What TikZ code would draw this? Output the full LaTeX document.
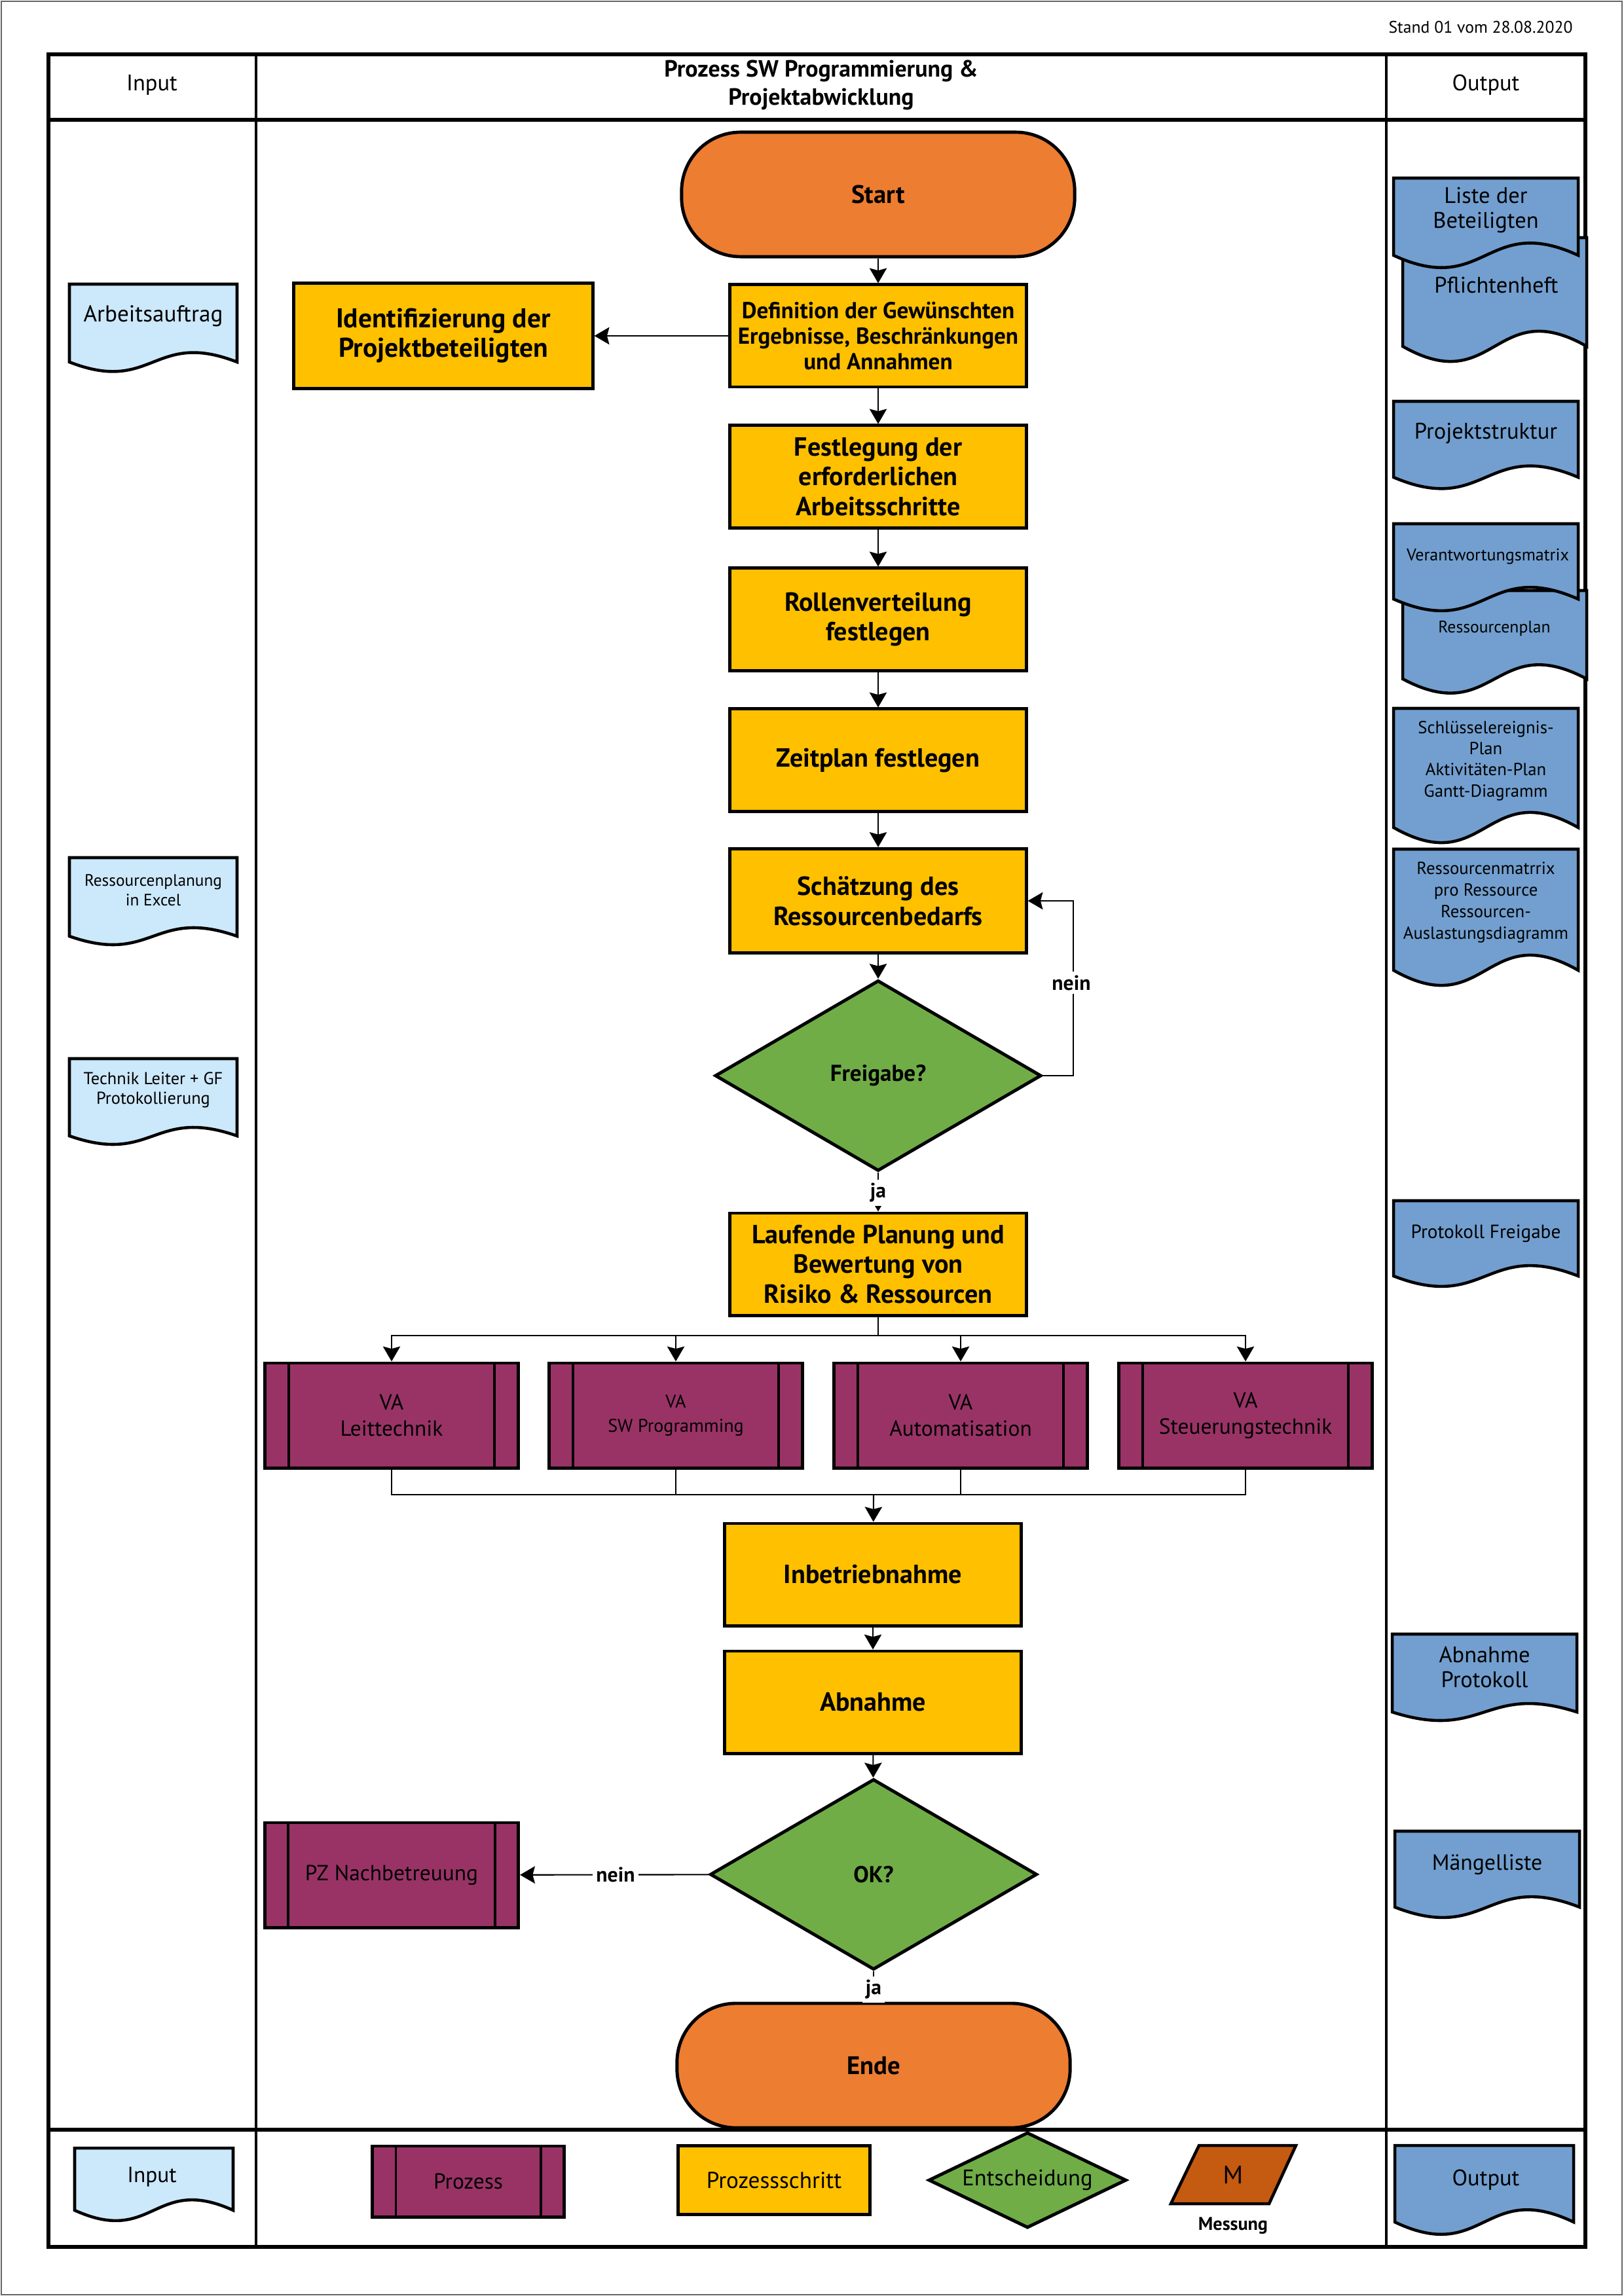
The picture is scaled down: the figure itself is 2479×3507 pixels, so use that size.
\documentclass[tikz,border=0pt]{standalone}
\usepackage{fontspec}
\setmainfont{PT Sans}
\usetikzlibrary{arrows.meta,shapes.geometric}
\definecolor{termc}{HTML}{ED7D31}
\definecolor{stepc}{HTML}{FFC000}
\definecolor{procc}{HTML}{993366}
\definecolor{decc}{HTML}{70AD47}
\definecolor{inc}{HTML}{CCE8FB}
\definecolor{outc}{HTML}{729FCF}
\definecolor{measc}{HTML}{C55A11}
\newcommand{\fs}[2]{\fontsize{#1}{#2}\selectfont}
\newcommand{\docpath}[6]{\draw[docline,fill=#6] (#1,#2) -- (#3,#2) -- (#3,#4) .. controls ({(#1+#3)/2},{#4-#5}) and ({(#1+#3)/2},{#4+#5}) .. (#1,#4) -- cycle;}
\begin{document}
\begin{tikzpicture}[x=0.01cm,y=-0.01cm,
  tab/.style={line width=1.5pt},
  tabin/.style={line width=1.1pt},
  docline/.style={draw, line width=1.3pt},
  stepbox/.style={draw, line width=1.4pt, fill=stepc, minimum width=4.52cm, minimum height=1.56cm, align=center, inner sep=2pt, font=\bfseries\fs{11.4}{13}},
  term/.style={draw, line width=1.4pt, fill=termc, rounded corners=0.9cm, minimum width=6cm, minimum height=1.9cm, font=\bfseries\fs{11}{13}},
  dec/.style={diamond, aspect=1.7, draw, line width=1.4pt, fill=decc, minimum width=4.98cm, minimum height=2.91cm, inner sep=0pt, font=\bfseries\fs{10}{12}},
  procbox/.style={draw, line width=1.4pt, fill=procc, minimum width=3.86cm, minimum height=1.6cm, align=center, inner sep=2pt, font=\fs{9.5}{11.5},
    path picture={\draw[line width=1.1pt] ([xshift=0.36cm]path picture bounding box.north west) -- ([xshift=0.36cm]path picture bounding box.south west) ([xshift=-0.36cm]path picture bounding box.north east) -- ([xshift=-0.36cm]path picture bounding box.south east);}},
  conn/.style={line width=0.6pt, -{Stealth[length=6.5pt,width=7.5pt,inset=1pt]}},
  plain/.style={line width=0.6pt},
  lbl/.style={fill=white, inner sep=1.5pt, font=\bfseries\fs{9}{11}},
  txt/.style={align=center, inner sep=0pt}
]
\useasboundingbox (0,0) rectangle (2479,3507);
\draw[black!60, line width=0.8pt] (2,2) rectangle (2477,3505);
\node[anchor=east, font=\fs{7.3}{8.5}] (stand) at (2414,42) {Stand 01 vom 28.08.2020};

% table
\draw[tab] (74,83) rectangle (2421,3432);
\draw[tabin] (391,83) -- (391,3432);
\draw[tabin] (2117,83) -- (2117,3432);
\draw[tab] (74,183) -- (2421,183);
\draw[tab] (74,3253) -- (2421,3253);

\node[font=\fs{9.8}{11.5}] (hin) at (232,130) {Input};
\node[align=center, font=\bfseries\fs{10.2}{12}] (hproc) at (1254,130) {Prozess SW Programmierung \&\\Projektabwicklung};
\node[font=\fs{9.8}{11.5}] (hout) at (2269,130) {Output};

% main flow
\node[term] (start) at (1341,297) {Start};
\node[stepbox, font=\bfseries\fs{10}{11}] (def) at (1341,513) {Definition der Gewünschten\\Ergebnisse, Beschränkungen\\und Annahmen};
\node[stepbox, minimum width=4.56cm, minimum height=1.6cm, font=\bfseries\fs{11.8}{12.8}] (ident) at (677,513) {Identifizierung der\\Projektbeteiligten};
\node[stepbox] (fest) at (1341,728) {Festlegung der\\erforderlichen\\Arbeitsschritte};
\node[stepbox] (rolle) at (1341,946) {Rollenverteilung\\festlegen};
\node[stepbox] (zeit) at (1341,1161) {Zeitplan festlegen};
\node[stepbox, minimum height=1.59cm] (schaetz) at (1341,1376) {Schätzung des\\Ressourcenbedarfs};
\node[dec] (frei) at (1341,1643) {Freigabe?};
\node[stepbox] (lauf) at (1341,1931) {Laufende Planung und\\Bewertung von\\Risiko \& Ressourcen};
\node[procbox] (va1) at (598,2162) {VA\\Leittechnik};
\node[procbox, font=\fs{8}{10.5}] (va2) at (1032,2162) {VA\\SW Programming};
\node[procbox] (va3) at (1467,2162) {VA\\Automatisation};
\node[procbox] (va4) at (1902,2162) {VA\\Steuerungstechnik};
\node[stepbox] (inb) at (1333,2405) {Inbetriebnahme};
\node[stepbox] (abn) at (1333,2600) {Abnahme};
\node[dec, minimum width=4.99cm] (ok) at (1334,2863) {OK?};
\node[procbox, minimum width=3.87cm] (pz) at (598,2864) {PZ Nachbetreuung};
\node[term] (ende) at (1334,3155) {Ende};

% connectors
\draw[conn] (start) -- (def);
\draw[conn] (def) -- (ident);
\draw[conn] (def) -- (fest);
\draw[conn] (fest) -- (rolle);
\draw[conn] (rolle) -- (zeit);
\draw[conn] (zeit) -- (schaetz);
\draw[conn] (schaetz) -- (frei);
\draw[conn] (frei.east) -- ++(46,0) |- (schaetz.east);
\node[lbl] (nein1) at (1636,1501) {nein};
\draw[conn] (frei) -- (lauf);
\node[lbl] (ja1) at (1341,1822) {ja};
\coordinate (bus1) at (1341,2040);
\draw[plain] (lauf) -- (bus1);
\draw[conn] (bus1) -| (va1);
\draw[conn] (bus1) -| (va2);
\draw[conn] (bus1) -| (va3);
\draw[conn] (bus1) -| (va4);
\coordinate (bus2) at (1334,2283);
\draw[plain] (va1) |- (bus2);
\draw[plain] (va4) |- (bus2);
\draw[plain] (va2) -- (va2 |- bus2);
\draw[plain] (va3) -- (va3 |- bus2);
\draw[conn] (bus2) -- (inb);
\draw[conn] (inb) -- (abn);
\draw[conn] (abn) -- (ok);
\draw[conn] (ok) -- (pz);
\node[lbl] (nein2) at (940,2863) {nein};
\draw[conn] (ok) -- (ende);
\node[lbl] (ja2) at (1334,3039) {ja};

% input column
\docpath{106}{434}{362}{553}{50}{inc}
\node[font=\fs{10}{11}] (in1) at (234,483) {Arbeitsauftrag};
\docpath{106}{1310}{362}{1430}{45}{inc}
\node[txt,font=\fs{7.2}{8.5}] (in2) at (234,1360) {Ressourcenplanung\\in Excel};
\docpath{106}{1617}{362}{1735}{45}{inc}
\node[txt,font=\fs{7.5}{8.5}] (in3) at (234,1665) {Technik Leiter + GF\\Protokollierung};

% output column
\docpath{2142}{363}{2423}{529}{80}{outc}
\node[font=\fs{9.8}{11.5}] (o2) at (2285,435) {Pflichtenheft};
\docpath{2128}{272}{2410}{390}{65}{outc}
\node[txt,font=\fs{9.8}{10.8}] (o1) at (2269,321) {Liste der\\Beteiligten};
\docpath{2128}{613}{2410}{729}{60}{outc}
\node[font=\fs{9.8}{11.5}] (o3) at (2269,662) {Projektstruktur};
\docpath{2142}{902}{2423}{1037}{75}{outc}
\node[font=\fs{7.3}{8.5}] (o5) at (2282,960) {Ressourcenplan};
\docpath{2128}{800}{2410}{915}{62}{outc}
\node[font=\fs{7.4}{8.5}] (o4) at (2272,850) {Verantwortungsmatrix};
\docpath{2128}{1082}{2410}{1264}{80}{outc}
\node[txt, font=\fs{7.6}{9.2}] (o6) at (2269,1162) {Schlüsselereignis-\\Plan\\Aktivitäten-Plan\\Gantt-Diagramm};
\docpath{2128}{1297}{2410}{1482}{80}{outc}
\node[txt, font=\fs{7.6}{9.4}] (o7) at (2269,1378) {Ressourcenmatrrix\\pro Ressource\\Ressourcen-\\Auslastungsdiagramm};
\docpath{2128}{1834}{2410}{1949}{55}{outc}
\node[font=\fs{8.3}{9}] (o8) at (2269,1884) {Protokoll Freigabe};
\docpath{2126}{2496}{2408}{2615}{45}{outc}
\node[txt,font=\fs{9.8}{10.8}] (o9) at (2267,2546) {Abnahme\\Protokoll};
\docpath{2130}{2797}{2412}{2913}{55}{outc}
\node[font=\fs{9.6}{11}] (o10) at (2271,2848) {Mängelliste};

% legend
\docpath{114}{3281}{356}{3376}{55}{inc}
\node[font=\fs{9.5}{11}] (lin) at (232,3325) {Input};
\node[procbox, minimum width=2.93cm, minimum height=1.08cm, font=\fs{9.5}{11}] (lproc) at (715,3332) {Prozess};
\node[stepbox, minimum width=2.92cm, minimum height=1.05cm, font=\fs{10}{11}] (lstep) at (1182,3330) {Prozessschritt};
\node[dec, minimum width=3.02cm, minimum height=1.46cm, aspect=2, font=\fs{9.8}{11}] (ldec) at (1569,3330) {Entscheidung};
\draw[line width=1.3pt, fill=measc] (1831,3277) -- (1979,3277) -- (1938,3366) -- (1788,3366) -- cycle;
\node[font=\fs{11}{12}] (lm) at (1883,3322) {M};
\node[font=\bfseries\fs{8}{10}] (lmess) at (1883,3400) {Messung};
\docpath{2130}{3277}{2403}{3394}{65}{outc}
\node[font=\fs{9.8}{11.5}] (lout) at (2269,3330) {Output};
\end{tikzpicture}
\end{document}
